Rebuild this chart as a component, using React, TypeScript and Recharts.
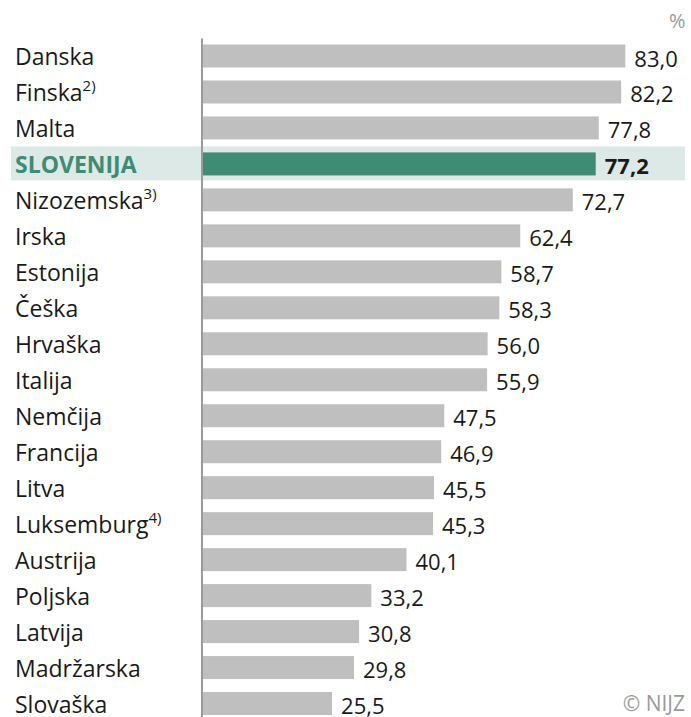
import { BarChart, Bar, XAxis, YAxis, LabelList } from 'recharts';

const countries = [
  'Danska', 'Finska', 'Malta', 'SLOVENIJA', 'Nizozemska', 'Irska', 'Estonija', 'Češka', 'Hrvaška',
  'Italija', 'Nemčija', 'Francija', 'Litva', 'Luksemburg', 'Austrija', 'Poljska', 'Latvija',
  'Madržarska', 'Slovaška',
];
const notes = ['', '2)', '', '', '3)', '', '', '', '', '', '', '', '', '4)', '', '', '', '', ''];
const values = [83.0, 82.2, 77.8, 77.2, 72.7, 62.4, 58.7, 58.3, 56.0, 55.9, 47.5, 46.9, 45.5, 45.3, 40.1, 33.2, 30.8, 29.8, 25.5];
const highlight = 'SLOVENIJA';

const data = countries.map((name, i) => ({ name, note: notes[i], value: values[i] }));

const FONT = '"Open Sans", sans-serif';
const GREEN = '#3f8b74';
const BAND = '#dce9e6';

const fmt = (v: number) => v.toFixed(1).replace('.', ',');

function BarShape(props: any) {
  const { x, y, width, height, payload } = props;
  const hl = payload.name === highlight;
  return (
    <g>
      {hl && <rect x={11} y={y - 6} width={674} height={height + 11} fill={BAND} />}
      <rect x={x} y={y} width={width} height={height} fill={hl ? GREEN : '#bfbfbf'} />
    </g>
  );
}

function CountryTick(props: any) {
  const { y, payload, index } = props;
  const hl = payload.value === highlight;
  const note = notes[index];
  return (
    <text x={15} y={y + 8.5} fontFamily={FONT} fontSize={23} fill={hl ? GREEN : '#1a1a1a'} fontWeight={hl ? 700 : 400} textAnchor="start">
      <tspan>{payload.value}</tspan>
      {note && (
        <tspan fontSize={15} dy={-10}>{note}</tspan>
      )}
    </text>
  );
}

function ValueLabel(props: any) {
  const { x, y, width, height, value, index } = props;
  const hl = countries[index] === highlight;
  return (
    <text x={x + width + 9} y={y + height / 2 + 10.5} fontFamily={FONT} fontSize={22} fill="#1a1a1a" fontWeight={hl ? 700 : 400}>
      {fmt(value)}
    </text>
  );
}

export default function App() {
  return (
    <div style={{ position: 'absolute', left: 0, top: 0, width: 691, height: 717, overflow: 'hidden', background: '#fff' }}>
      <BarChart
        width={691}
        height={722}
        data={data}
        layout="vertical"
        margin={{ top: 38.5, right: 30, bottom: 0, left: 0 }}
        barSize={23}
      >
        <XAxis type="number" domain={[0, 90]} hide />
        <Bar dataKey="value" isAnimationActive={false} shape={<BarShape />}>
          <LabelList dataKey="value" content={<ValueLabel />} />
        </Bar>
        <YAxis
          type="category"
          dataKey="name"
          width={202}
          axisLine={{ stroke: '#9a9a9a', strokeWidth: 2 }}
          tickLine={false}
          tick={<CountryTick />}
          interval={0}
        />
      </BarChart>
      <div style={{ position: 'absolute', left: 669, top: 7, fontFamily: FONT, fontSize: 20, color: '#9a9a9a' }}>%</div>
      <div style={{ position: 'absolute', right: 6, top: 689, fontFamily: FONT, fontSize: 21, color: '#9a9a9a' }}>© NIJZ</div>
    </div>
  );
}
